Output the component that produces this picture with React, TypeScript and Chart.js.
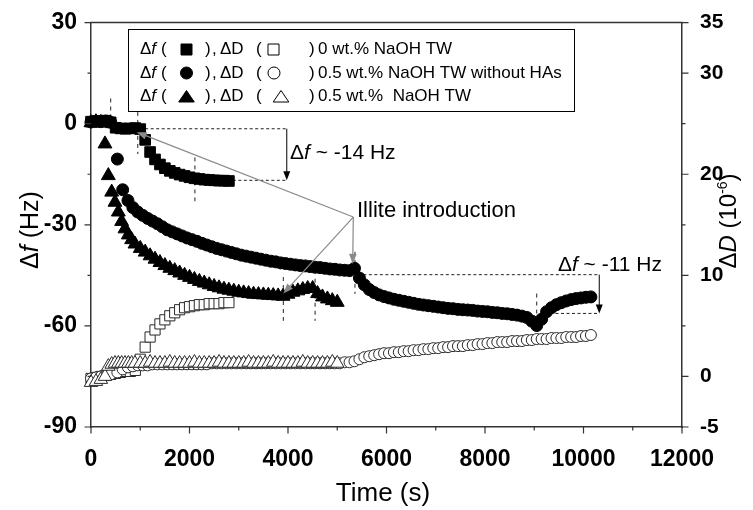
import React, { useEffect, useRef } from 'react';
import { Chart, registerables } from 'chart.js';

Chart.register(...registerables);

const FONT = "'Liberation Sans', Arial, Helvetica, sans-serif";
const AXIS = '#333333';

// ---------- data: 0 wt.% NaOH TW (squares) ----------
const sqT = [0, 100, 200, 300, 400, 500, 600, 700, 800, 900, 1000, 1100, 1200, 1300, 1400, 1500, 1600, 1700, 1800, 1900, 2000, 2100, 2200, 2300, 2400, 2500, 2600, 2700, 2800];
const sqF = [0.6, 0.8, 0.6, 0.9, 0.4, -1.2, -1.4, -1.5, -1.4, -1.3, -1.6, -4.8, -8.4, -10.6, -12.1, -13.2, -14.0, -14.6, -15.1, -15.5, -15.9, -16.2, -16.4, -16.6, -16.7, -16.8, -16.9, -16.9, -17.0];
const sqD = [-0.2, -0.1, 0.0, 0.1, 0.2, 0.3, 0.4, 0.5, 0.5, 0.6, 1.7, 2.9, 3.9, 4.6, 5.2, 5.6, 6.0, 6.3, 6.6, 6.8, 6.9, 7.0, 7.1, 7.1, 7.2, 7.2, 7.2, 7.3, 7.3];

// ---------- data: 0.5 wt.% NaOH TW without HAs (circles) ----------
const ciT = [0, 100, 200, 300, 400, 535, 643, 750,
  850, 950, 1050, 1150, 1250, 1350, 1450, 1550, 1650, 1750,
  1850, 1950, 2050, 2150, 2250, 2350, 2450, 2550, 2650, 2750,
  2850, 2950, 3050, 3150, 3250, 3350, 3450, 3550, 3650, 3750,
  3850, 3950, 4050, 4150, 4250, 4350, 4450, 4550, 4650, 4750,
  4850, 4950, 5050, 5150, 5250, 5350, 5450, 5550, 5650, 5750,
  5850, 5950, 6050, 6150, 6250, 6350, 6450, 6550, 6650, 6750,
  6850, 6950, 7050, 7150, 7250, 7350, 7450, 7550, 7650, 7750,
  7850, 7950, 8050, 8150, 8250, 8350, 8450, 8550, 8650, 8750,
  8850, 8950, 9050, 9150, 9250, 9350, 9450, 9550, 9650, 9750,
  9850, 9950, 10050, 10150];
const ciF = [0.5, 0.7, 0.6, 0.8, 0.4, -10.5, -19.6, -22.8,
  -24.9, -26.2, -27.2, -28.1, -28.9, -29.7, -30.6, -31.5, -32.1, -32.7,
  -33.3, -33.9, -34.4, -34.9, -35.5, -36.0, -36.5, -37.0, -37.4, -37.8,
  -38.2, -38.6, -39.0, -39.3, -39.6, -39.9, -40.2, -40.5, -40.8, -41.0,
  -41.3, -41.5, -41.7, -41.9, -42.1, -42.2, -42.4, -42.6, -42.7, -42.9,
  -43.1, -43.2, -43.4, -43.5, -43.6, -42.9, -45.8, -47.8, -49.2, -50.1,
  -50.8, -51.3, -51.7, -52.1, -52.4, -52.7, -53.0, -53.3, -53.6, -53.8,
  -54.0, -54.2, -54.4, -54.6, -54.8, -54.9, -55.1, -55.2, -55.3, -55.4,
  -55.6, -55.7, -55.8, -56.0, -56.1, -56.3, -56.4, -56.6, -56.8, -57.1,
  -57.5, -58.6, -59.9, -58.0, -55.8, -54.6, -53.7, -53.1, -52.6, -52.2,
  -51.9, -51.7, -51.5, -51.4];
const ciD = [-0.2, -0.1, 0.0, 0.1, 0.2, 0.4, 0.7, 0.9,
  1.0, 1.1, 1.1, 1.1, 1.2, 1.2, 1.2, 1.2, 1.2, 1.2,
  1.2, 1.2, 1.2, 1.2, 1.2, 1.2, 1.3, 1.3, 1.3, 1.3,
  1.3, 1.3, 1.3, 1.3, 1.3, 1.3, 1.3, 1.3, 1.3, 1.3,
  1.3, 1.3, 1.3, 1.3, 1.3, 1.3, 1.3, 1.3, 1.3, 1.3,
  1.3, 1.3, 1.3, 1.4, 1.4, 1.5, 1.7, 1.9, 2.0, 2.1,
  2.2, 2.3, 2.3, 2.4, 2.4, 2.5, 2.5, 2.6, 2.6, 2.7,
  2.7, 2.8, 2.8, 2.9, 2.9, 3.0, 3.0, 3.0, 3.1, 3.1,
  3.2, 3.2, 3.3, 3.3, 3.4, 3.4, 3.4, 3.5, 3.5, 3.5,
  3.6, 3.6, 3.7, 3.7, 3.7, 3.8, 3.8, 3.8, 3.9, 3.9,
  3.9, 4.0, 4.0, 4.1];

// ---------- data: 0.5 wt.% NaOH TW (triangles) ----------
const trT = [0, 100, 200, 284, 352, 420, 487, 555, 622, 690, 757, 825, 893,
  1000, 1100, 1200, 1300, 1400, 1500, 1600, 1700, 1800, 1900,
  2000, 2100, 2200, 2300, 2400, 2500, 2600, 2700, 2800, 2900,
  3000, 3100, 3200, 3300, 3400, 3500, 3600, 3700, 3800, 3900,
  4000, 4100, 4200, 4300, 4400, 4500, 4600, 4700, 4800, 4900,
  5000];
const trF = [0.3, 0.6, 0.4, -6.0, -15.4, -20.3, -23.3, -26.2, -29.0, -31.2, -33.0, -34.4, -35.7,
  -37.0, -38.1, -39.2, -40.2, -41.2, -42.1, -42.9, -43.6, -44.3, -45.0,
  -45.6, -46.2, -46.8, -47.3, -47.8, -48.3, -48.7, -49.1, -49.4, -49.7,
  -50.0, -50.2, -50.4, -50.6, -50.7, -50.8, -50.9, -51.0, -51.1, -51.2,
  -50.6, -50.0, -49.6, -49.2, -48.9, -48.9, -50.4, -51.4, -52.0, -52.5,
  -53.0];
const trD = [-0.6, -0.5, -0.3, 0.0, 1.0, 1.2, 1.3, 1.3, 1.3, 1.3, 1.3, 1.3, 1.3,
  1.3, 1.3, 1.4, 1.3, 1.3, 1.3, 1.4, 1.3, 1.3, 1.3,
  1.3, 1.4, 1.3, 1.3, 1.3, 1.3, 1.4, 1.3, 1.3, 1.3,
  1.3, 1.3, 1.4, 1.3, 1.3, 1.3, 1.3, 1.4, 1.3, 1.3,
  1.3, 1.3, 1.3, 1.4, 1.3, 1.3, 1.3, 1.3, 1.3, 1.4,
  1.3];

// ---------- ticks & labels ----------
const xTicks = [0, 2000, 4000, 6000, 8000, 10000, 12000];
const yTicks = [-90, -60, -30, 0, 30];
const y1Ticks = [-5, 0, 10, 20, 30, 35];
const seriesLabels = ['0 wt.% NaOH TW', '0.5 wt.% NaOH TW without HAs', '0.5 wt.%  NaOH TW'];
const seriesMarkers = ['rect', 'circle', 'triangle'];

// ---------- annotations (data coordinates, left axis) ----------
const vDashes = [[400, 7.5, -0.5], [950, 3.5, -9], [2110, -10, -23], [3905, -45.5, -58.5], [4550, -46, -58.5], [5360, -38, -50.5], [9050, -50.4, -60.4]];
const hDashes = [[1100, 3990, -1.5], [2880, 3990, -16.8], [5530, 10320, -44.8], [9320, 10320, -56.3]];
const shiftArrows = [[3975, -1.5, -16.8], [10320, -44.8, -56.3]];
const shiftTexts = [{ t: 4040, f: -8.7, label: ' ~ -14 Hz' }, { t: 9480, f: -42, label: ' ~ -11 Hz' }];
const illiteFrom = [5326, -27.7];
const illiteTargets = [[928, -2.5], [5314, -41.6], [3905, -50.4]];
const illiteText = { t: 5401, f: -26, label: 'Illite introduction' };

const fontStr = (size: number, italic = false, bold = false) =>
  `${italic ? 'italic ' : ''}${bold ? 'bold ' : ''}${size}px ${FONT}`;

type Seg = [string, number, boolean?, number?];
function segsWidth(ctx: CanvasRenderingContext2D, segs: Seg[]) {
  let w = 0;
  for (const s of segs) { ctx.font = fontStr(s[1], !!s[2]); w += ctx.measureText(s[0]).width; }
  return w;
}
function drawSegs(ctx: CanvasRenderingContext2D, segs: Seg[], x: number, y: number) {
  let cx = x;
  ctx.textAlign = 'left';
  ctx.textBaseline = 'middle';
  for (const s of segs) {
    ctx.font = fontStr(s[1], !!s[2]);
    ctx.fillText(s[0], cx, y + (s[3] || 0));
    cx += ctx.measureText(s[0]).width;
  }
  return cx;
}
function arrowHead(ctx: CanvasRenderingContext2D, x1: number, y1: number, x2: number, y2: number, len: number, half: number) {
  const a = Math.atan2(y2 - y1, x2 - x1);
  const bx = x2 - len * Math.cos(a), by = y2 - len * Math.sin(a);
  ctx.beginPath();
  ctx.moveTo(x2, y2);
  ctx.lineTo(bx + half * Math.sin(a), by - half * Math.cos(a));
  ctx.lineTo(bx - half * Math.sin(a), by + half * Math.cos(a));
  ctx.closePath();
  ctx.fill();
}
function legendMarker(ctx: CanvasRenderingContext2D, kind: string, filled: boolean, cx: number, cy: number) {
  ctx.beginPath();
  if (kind === 'rect') ctx.rect(cx - 5.5, cy - 5.5, 11, 11);
  else if (kind === 'circle') ctx.arc(cx, cy, 6, 0, Math.PI * 2);
  else { ctx.moveTo(cx, cy - 6); ctx.lineTo(cx + 7.8, cy + 5.5); ctx.lineTo(cx - 7.8, cy + 5.5); ctx.closePath(); }
  ctx.fillStyle = filled ? '#000' : '#fff';
  ctx.fill();
  ctx.lineWidth = 1;
  ctx.strokeStyle = '#000';
  ctx.stroke();
}

const decor = {
  id: 'decor',
  beforeDatasetsDraw(chart: any) {
    const { ctx, scales } = chart;
    const xs = scales.x, ys = scales.y;
    ctx.save();
    ctx.strokeStyle = '#222';
    ctx.lineWidth = 1;
    ctx.setLineDash([4, 4]);
    ctx.beginPath();
    for (const [t, a, b] of vDashes) {
      const px = xs.getPixelForValue(t);
      ctx.moveTo(px, ys.getPixelForValue(a));
      ctx.lineTo(px, ys.getPixelForValue(b));
    }
    ctx.stroke();
    ctx.setLineDash([3, 2.5]);
    ctx.beginPath();
    for (const [t1, t2, f] of hDashes) {
      const py = ys.getPixelForValue(f);
      ctx.moveTo(xs.getPixelForValue(t1), py);
      ctx.lineTo(xs.getPixelForValue(t2), py);
    }
    ctx.stroke();
    ctx.restore();
  },
  afterDatasetsDraw(chart: any) {
    const { ctx, chartArea: ca, scales } = chart;
    const xs = scales.x, ys = scales.y, y1s = scales.y1;
    ctx.save();
    ctx.setLineDash([]);
    ctx.strokeStyle = AXIS;
    ctx.lineWidth = 1.5;
    ctx.beginPath();
    ctx.moveTo(ca.left - 0.75, ca.top);
    ctx.lineTo(ca.right + 0.75, ca.top);
    ctx.stroke();
    ctx.lineWidth = 1.2;
    ctx.beginPath();
    for (let v = 0; v <= 12000; v += 1000) {
      const p = xs.getPixelForValue(v);
      const l = v % 2000 === 0 ? 6.5 : 3.5;
      ctx.moveTo(p, ca.bottom); ctx.lineTo(p, ca.bottom + l);
    }
    for (let v = -90; v <= 30; v += 15) {
      const p = ys.getPixelForValue(v);
      const l = v % 30 === 0 ? 6.5 : 3.5;
      ctx.moveTo(ca.left, p); ctx.lineTo(ca.left - l, p);
    }
    for (let v = -5; v <= 35; v += 5) {
      const p = y1s.getPixelForValue(v);
      const l = (v % 10 === 0 || v === -5 || v === 35) ? 6.5 : 3.5;
      ctx.moveTo(ca.right, p); ctx.lineTo(ca.right + l, p);
    }
    ctx.stroke();

    ctx.strokeStyle = '#000';
    ctx.fillStyle = '#000';
    ctx.lineWidth = 1;
    for (const [t, a, b] of shiftArrows) {
      const px = xs.getPixelForValue(t);
      const pa = ys.getPixelForValue(a), pb = ys.getPixelForValue(b);
      ctx.beginPath(); ctx.moveTo(px, pa); ctx.lineTo(px, pb - 6); ctx.stroke();
      arrowHead(ctx, px, pa, px, pb, 9, 3.5);
    }
    for (const s of shiftTexts) {
      drawSegs(ctx, [['\u0394', 21], ['f', 21, true], [s.label, 21]], xs.getPixelForValue(s.t), ys.getPixelForValue(s.f));
    }

    const ox = xs.getPixelForValue(illiteFrom[0]), oy = ys.getPixelForValue(illiteFrom[1]);
    ctx.strokeStyle = '#8a8a8a';
    ctx.fillStyle = '#8a8a8a';
    ctx.lineWidth = 1.2;
    for (const [t, f] of illiteTargets) {
      const tx = xs.getPixelForValue(t), ty = ys.getPixelForValue(f);
      const a = Math.atan2(ty - oy, tx - ox);
      ctx.beginPath(); ctx.moveTo(ox, oy); ctx.lineTo(tx - 7 * Math.cos(a), ty - 7 * Math.sin(a)); ctx.stroke();
      arrowHead(ctx, ox, oy, tx, ty, 10, 3.8);
    }
    ctx.fillStyle = '#000';
    drawSegs(ctx, [[illiteText.label, 22]], xs.getPixelForValue(illiteText.t), ys.getPixelForValue(illiteText.f));

    const lx = 128, ly = 29, lw = 446, lh = 82;
    ctx.fillStyle = '#fff';
    ctx.fillRect(lx, ly, lw, lh);
    ctx.strokeStyle = '#000';
    ctx.lineWidth = 1;
    ctx.strokeRect(lx + 0.5, ly + 0.5, lw, lh);
    const rows = [49.5, 73, 96.5];
    const openX = [273.5, 274, 281];
    for (let i = 0; i < 3; i++) {
      const ry = rows[i];
      ctx.fillStyle = '#000';
      drawSegs(ctx, [['\u0394', 17], ['f', 17, true]], 140, ry);
      drawSegs(ctx, [['(', 17]], 161, ry);
      drawSegs(ctx, [[')', 17]], 205, ry);
      drawSegs(ctx, [[',', 17]], 212, ry);
      drawSegs(ctx, [['\u0394D', 17]], 220, ry);
      drawSegs(ctx, [['(', 17]], 256, ry);
      drawSegs(ctx, [[')', 17]], 309, ry);
      drawSegs(ctx, [[seriesLabels[i], 17]], 318, ry);
      legendMarker(ctx, seriesMarkers[i], true, 186.5, ry);
      legendMarker(ctx, seriesMarkers[i], false, openX[i], ry);
    }
    ctx.restore();
  },
  afterDraw(chart: any) {
    const { ctx } = chart;
    ctx.save();
    ctx.fillStyle = '#000';
    const xt: Seg[] = [['Time (s)', 26]];
    drawSegs(ctx, xt, 383 - segsWidth(ctx, xt) / 2, 494);
    const lt: Seg[] = [['\u0394', 25], ['f', 25, true], [' (Hz)', 25]];
    ctx.translate(31, 230);
    ctx.rotate(-Math.PI / 2);
    drawSegs(ctx, lt, -segsWidth(ctx, lt) / 2, 0);
    ctx.restore();
    ctx.save();
    ctx.fillStyle = '#000';
    const rt: Seg[] = [['\u0394', 24], ['D', 24, true], [' (10', 24], ['-6', 14, false, -6], [')', 24]];
    ctx.translate(729, 221);
    ctx.rotate(-Math.PI / 2);
    drawSegs(ctx, rt, -segsWidth(ctx, rt) / 2, 0);
    ctx.restore();
  },
};

const toXY = (ts: number[], vs: number[]) => ts.map((t, i) => ({ x: t, y: vs[i] }));

export default function App() {
  const ref = useRef<HTMLCanvasElement>(null);
  useEffect(() => {
    const filled = (data: any, style: string, r: number, order: number) => ({
      data, yAxisID: 'y', pointStyle: style, pointRadius: r, pointBackgroundColor: '#000',
      pointBorderColor: '#000', pointBorderWidth: 1, showLine: false, order, clip: false,
    });
    const open = (data: any, style: string, r: number, order: number) => ({
      data, yAxisID: 'y1', pointStyle: style, pointRadius: r, pointBackgroundColor: '#fff',
      pointBorderColor: '#2a2a2a', pointBorderWidth: 1, showLine: false, order, clip: false,
    });
    const tickFont = { family: FONT, size: 23, weight: 'bold' as const };
    const rightFont = { family: FONT, size: 21, weight: 'bold' as const };
    const chart = new Chart(ref.current!, {
      type: 'scatter',
      data: {
        datasets: [
          filled(toXY(sqT, sqF), 'rect', 7.5, 1),
          filled(toXY(ciT, ciF), 'circle', 6, 2),
          filled(toXY(trT, trF), 'triangle', 8, 3),
          open(toXY(trT, trD), 'triangle', 7.8, 4),
          open(toXY(ciT, ciD), 'circle', 5.5, 5),
          open(toXY(sqT, sqD), 'rect', 7.2, 6),
        ] as any,
      },
      options: {
        responsive: false,
        animation: false,
        events: [],
        layout: { padding: { top: 22, left: 0, right: 0, bottom: 0 } },
        plugins: { legend: { display: false }, tooltip: { enabled: false } },
        scales: {
          x: {
            type: 'linear', position: 'bottom', min: 0, max: 12000,
            afterBuildTicks: (s: any) => { s.ticks = xTicks.map((v) => ({ value: v })); },
            afterFit: (s: any) => { s.height = 83; },
            ticks: { autoSkip: false, maxRotation: 0, padding: 11, color: '#000', font: tickFont, callback: (v: any) => String(v) },
            grid: { display: false },
            border: { display: true, color: AXIS, width: 1.5 },
          },
          y: {
            type: 'linear', position: 'left', min: -90, max: 30,
            afterBuildTicks: (s: any) => { s.ticks = yTicks.map((v) => ({ value: v })); },
            afterFit: (s: any) => { s.width = 91; },
            ticks: { padding: 6, color: '#000', font: tickFont, callback: (v: any) => String(v) },
            grid: { display: false },
            border: { display: true, color: AXIS, width: 1.5 },
          },
          y1: {
            type: 'linear', position: 'right', min: -5, max: 35,
            afterBuildTicks: (s: any) => { s.ticks = y1Ticks.map((v) => ({ value: v })); },
            afterFit: (s: any) => { s.width = 71; },
            ticks: { padding: 10, color: '#000', font: rightFont, callback: (v: any) => String(v) },
            grid: { display: false },
            border: { display: true, color: AXIS, width: 1.5 },
          },
        },
      } as any,
      plugins: [decor],
    });
    return () => chart.destroy();
  }, []);
  return (
    <div style={{ position: 'absolute', left: 0, top: 0, width: 753, height: 510, background: '#fff' }}>
      <canvas ref={ref} width={753} height={510} style={{ display: 'block' }} />
    </div>
  );
}
